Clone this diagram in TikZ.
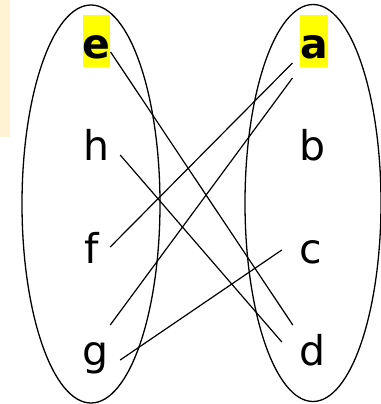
\documentclass[tikz,border=0pt]{standalone}
\usepackage{fontspec}
\setmainfont{DejaVu Sans}
\usetikzlibrary{calc}
\definecolor{setyellow}{HTML}{FFFF00}
\definecolor{setcream}{HTML}{FFF3D4}
\tikzset{
  letter/.style={font=\fontsize{41}{48}\selectfont,inner sep=0pt,text height=44pt,text depth=8pt,minimum width=27pt,anchor=base},
  hilite/.style={letter,fill=setyellow,font=\fontsize{41}{48}\selectfont\bfseries},
  setline/.style={draw=black,line width=1.3pt},
  mapline/.style={draw=black,line width=1.2pt},
}
\begin{document}
\begin{tikzpicture}[x=1pt,y=-1pt]
\useasboundingbox (0,0) rectangle (380,404);
\fill[setcream] (0,0) rectangle (10,137);
% the two sets
\draw[setline] (91,204) ellipse [x radius=69pt,y radius=199pt];
\draw[setline] (313,203) ellipse [x radius=68pt,y radius=198.5pt];
% elements
\node[hilite] (e) at (96.5,59) {e};
\node[hilite] (a) at (314,59) {a};
\foreach \n/\x/\y in {h/96/160, f/92/263, g/96/365, b/313/160, c/311/263, d/312.5/365}
  \node[letter] (\n) at (\x,\y) {\n};
% mapping
\draw[mapline] ($(e.east)+(0,11)$) -- ($(d.west)+(-6,-22)$);
\draw[mapline] ($(h.east)+(10.5,13)$) -- ($(d.west)+(-17,-5)$);
\draw[mapline] ($(f.east)+(4.5,2)$) -- ($(a.west)+(-7.5,22)$);
\draw[mapline] ($(g.east)+(0.5,-22)$) -- ($(a.west)+(-7.5,37)$);
\draw[mapline] ($(g.east)+(10.5,13)$) -- ($(c.west)+(-15.5,5)$);
\end{tikzpicture}
\end{document}
